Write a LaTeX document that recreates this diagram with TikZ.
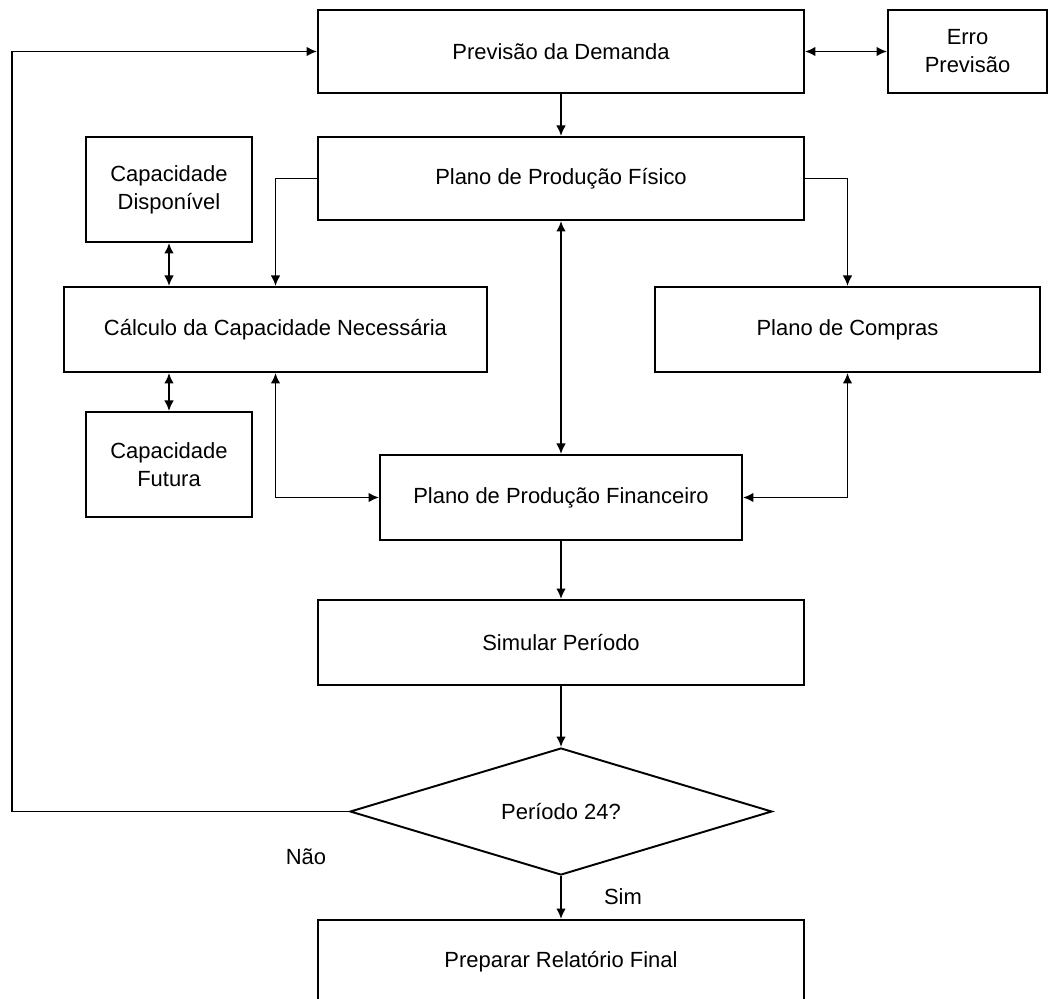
\documentclass[tikz,border=0pt]{standalone}
\usepackage{fontspec}
\setmainfont{Liberation Sans}
\usetikzlibrary{arrows.meta}
\usetikzlibrary{shapes.geometric}
\tikzset{
  caixa/.style={draw, line width=1.1pt, align=center, inner sep=2pt,
    font=\fontsize{12.5}{16}\selectfont},
  seta/.style={-{Latex[length=6pt,width=5.5pt]}, line width=1.1pt},
  setadupla/.style={{Latex[length=6pt,width=5.5pt]}-{Latex[length=6pt,width=5.5pt]}, line width=1.1pt},
  rotulo/.style={font=\fontsize{12.5}{16}\selectfont}
}

\begin{document}
\begin{tikzpicture}[x=0.02cm, y=-0.02cm]
					\useasboundingbox (0,0) rectangle (1054,999);
					%boxes
					\node[caixa, minimum width=9.72cm, minimum height=1.66cm] (prev) at (561,51.5) {Previsão da Demanda};
					\node[caixa, minimum width=3.18cm, minimum height=1.66cm] (erro) at (967.5,51.5) {Erro\\Previsão};
					\node[caixa, minimum width=9.72cm, minimum height=1.66cm] (fisico) at (561,178.5) {Plano de Produção Físico};
					\node[caixa, minimum width=3.32cm, minimum height=2.1cm] (disp) at (169,189.5) {Capacidade\\Disponível};
					\node[caixa, minimum width=8.46cm, minimum height=1.7cm] (calc) at (275.5,329.5) {Cálculo da Capacidade Necessária};
					\node[caixa, minimum width=7.7cm, minimum height=1.7cm] (compras) at (847.5,329.5) {Plano de Compras};
					\node[caixa, minimum width=3.32cm, minimum height=2.1cm] (futura) at (169,464.5) {Capacidade\\Futura};
					\node[caixa, minimum width=7.24cm, minimum height=1.7cm] (financ) at (561,497.5) {Plano de Produção Financeiro};
					\node[caixa, minimum width=9.72cm, minimum height=1.7cm] (simular) at (561,642.5) {Simular Período};
					\node[caixa, diamond, aspect=3.3, inner sep=0pt, minimum width=8.44cm, minimum height=2.54cm] (decisao) at (561,811.5) {Período 24?};
					\node[caixa, minimum width=9.72cm, minimum height=1.66cm] (relat) at (561,961.5) {Preparar Relatório Final};
					%labels
					\node[rotulo] (nao) at (306,857) {Não};
					\node[rotulo] (sim) at (623,897) {Sim};
					%return loop
					\coordinate (volta) at (12,51.5);
					\draw[seta] (decisao.west) -| (volta) -- (prev.west);
					%connectors
					\draw[setadupla] (prev.east) -- (erro.west);
					\draw[seta] (prev.south) -- (fisico.north);
					\draw[seta] (fisico.west) -| (calc.north);
					\draw[seta] (fisico.east) -| (compras.north);
					\draw[setadupla] (fisico.south) -- (financ.north);
					\draw[setadupla] (disp.south) -- (disp.south |- calc.north);
					\draw[setadupla] (futura.north |- calc.south) -- (futura.north);
					\draw[setadupla] (calc.south) |- (financ.west);
					\draw[setadupla] (compras.south) |- (financ.east);
					\draw[seta] (financ.south) -- (simular.north);
					\draw[seta] (simular.south) -- (decisao.north);
					\draw[seta] (decisao.south) -- (relat.north);
				\end{tikzpicture}
\end{document}
